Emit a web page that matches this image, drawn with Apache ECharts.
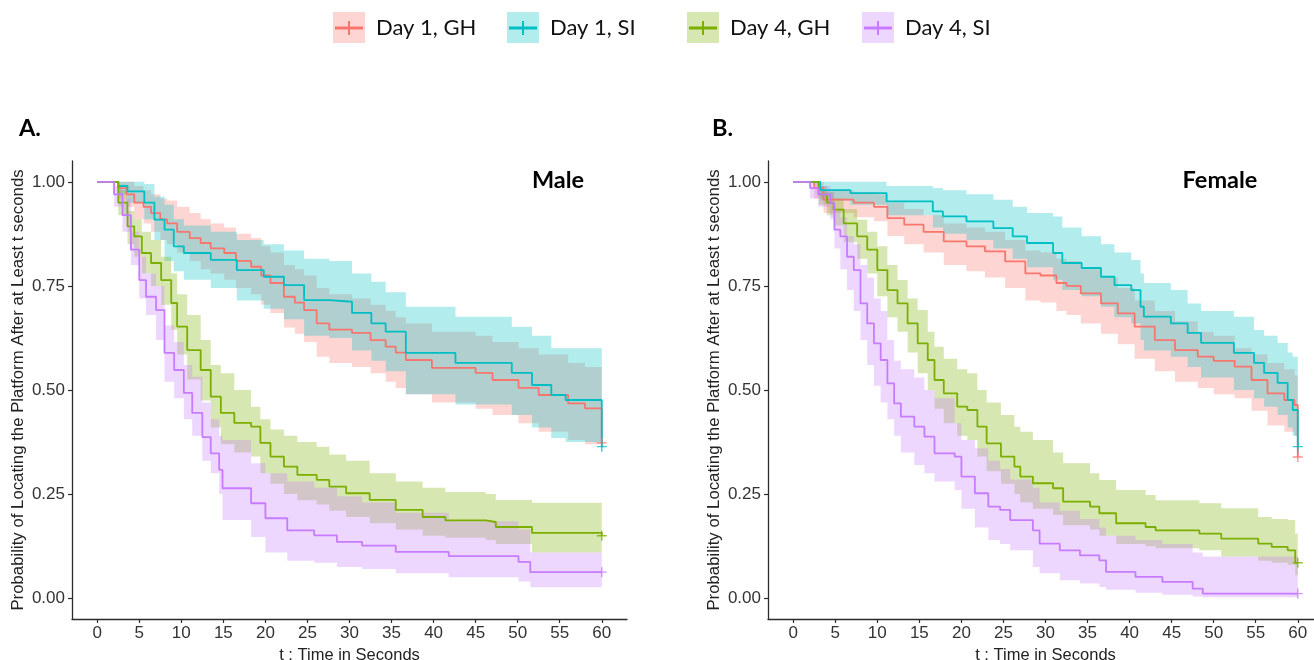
<!DOCTYPE html>
<html>
<head>
<meta charset="utf-8">
<script src="https://cdn.jsdelivr.net/npm/echarts@6/dist/echarts.min.js"></script>
<style>html,body{margin:0;padding:0;background:#fff}#c{width:1314px;height:660px}</style>
</head>
<body>
<div id="c"></div>
<script>
// ---------- data ----------
const groups = ['Day 1, GH', 'Day 1, SI', 'Day 4, GH', 'Day 4, SI'];
const panels = ['Male', 'Female'];
const xTicks = [0, 5, 10, 15, 20, 25, 30, 35, 40, 45, 50, 55, 60];
const yTicks = [0, 0.25, 0.5, 0.75, 1];

// Panel A (Male) - Day 1, GH
const A_d1gh_t  = [0,2.5,3.5,4.4,5.5,6.4,7.5,8.3,9.5,11,12.3,13.5,15.1,16.5,18.3,19.5,20.6,22.2,23.5,24.6,26.1,27.6,30.3,32.5,34.3,35.5,36.7,39.8,45,47,50.1,52.5,56,58,60];
const A_d1gh_s  = [1,.985,.97,.95,.94,.925,.91,.90,.88,.865,.853,.84,.829,.81,.796,.775,.757,.724,.71,.692,.66,.645,.637,.62,.604,.59,.572,.553,.541,.524,.505,.488,.468,.456,.373];
const A_d1gh_lo = [1,.96,.94,.91,.90,.88,.86,.85,.83,.81,.79,.78,.765,.745,.73,.705,.685,.65,.635,.615,.58,.565,.555,.54,.52,.505,.49,.47,.455,.44,.42,.40,.38,.37,.28];
const A_d1gh_hi = [1,1,1,.99,.98,.97,.96,.955,.94,.925,.91,.90,.89,.875,.865,.845,.83,.80,.79,.775,.745,.73,.72,.705,.69,.675,.66,.64,.63,.615,.60,.585,.565,.555,.50];
// Panel A - Day 1, SI
const A_d1si_t  = [0,2.5,3.6,5.6,6.8,8.0,9.1,10.3,13.5,16.6,19.8,22.2,24.6,27.6,30.3,32.6,34.3,36.7,42.6,49.3,51.7,54.0,55.7,60];
const A_d1si_s  = [1,.99,.977,.95,.909,.885,.845,.829,.8125,.788,.772,.752,.716,.712,.685,.66,.64,.589,.565,.541,.512,.488,.476,.364];
const A_d1si_lo = [1,.97,.95,.91,.86,.81,.785,.765,.745,.715,.695,.67,.63,.625,.595,.57,.545,.49,.465,.44,.41,.385,.375,.27];
const A_d1si_hi = [1,1,1,.995,.965,.945,.91,.895,.88,.86,.85,.835,.815,.81,.78,.76,.735,.70,.676,.652,.63,.60,.60,.49];
// Panel A - Day 4, GH
const A_d4gh_t  = [0,2.5,3.6,4.4,5.3,6.4,7.6,8.8,9.5,10.7,12.3,13.5,14.7,16.3,18.3,19.4,20.6,22.2,23.8,26.1,27.6,29.6,32.4,35.5,38.7,41.4,46.2,47.4,51.7,60];
const A_d4gh_s  = [1,.95,.893,.869,.829,.805,.764,.709,.652,.596,.548,.484,.445,.421,.412,.373,.34,.316,.296,.284,.268,.252,.236,.212,.195,.187,.183,.171,.157,.15];
const A_d4gh_lo = [1,.92,.85,.82,.78,.75,.705,.645,.585,.525,.475,.41,.37,.35,.34,.30,.275,.25,.235,.225,.21,.195,.18,.165,.15,.145,.14,.13,.11,.10];
const A_d4gh_hi = [1,.98,.93,.91,.88,.86,.82,.78,.73,.68,.62,.56,.54,.50,.46,.43,.405,.39,.375,.364,.345,.33,.30,.28,.265,.255,.25,.236,.229,.225];
// Panel A - Day 4, SI
const A_d4si_t  = [0,2.0,3.0,4.0,5.0,5.8,7.0,8.0,9.15,10.3,11.3,12.5,13.5,14.5,14.9,18.3,20.0,22.6,25.8,28.5,31.5,35.5,41.8,50.1,51.5,60];
const A_d4si_s  = [1,.97,.92,.837,.764,.724,.692,.589,.548,.493,.445,.387,.348,.308,.264,.228,.192,.163,.151,.135,.126,.111,.101,.087,.0625,.0625];
const A_d4si_lo = [1,.94,.88,.80,.72,.68,.62,.52,.48,.43,.39,.33,.30,.25,.188,.147,.11,.09,.085,.075,.07,.06,.05,.04,.026,.026];
const A_d4si_hi = [1,.99,.96,.88,.82,.78,.75,.655,.615,.56,.532,.47,.43,.39,.38,.324,.30,.28,.265,.245,.23,.205,.185,.165,.11,.11];

// Panel B (Female) - Day 1, GH
const B_d1gh_t  = [0,2.5,3.6,7.2,9.6,11.2,13.2,15.5,17.9,20.6,22.8,25.2,27.6,29.4,31.3,32.5,34.2,36.6,38.6,40.6,43.0,45.4,48.1,50.0,52.5,54.5,56.4,58.4,59.6,60];
const B_d1gh_s  = [1,.985,.957,.95,.94,.913,.897,.88,.857,.845,.833,.809,.78,.775,.757,.75,.732,.708,.684,.652,.62,.596,.58,.57,.556,.524,.492,.476,.464,.339];
const B_d1gh_lo = [1,.96,.925,.915,.905,.87,.85,.83,.80,.785,.77,.745,.715,.71,.69,.68,.66,.635,.61,.575,.545,.52,.505,.49,.48,.45,.415,.40,.39,.27];
const B_d1gh_hi = [1,1,.98,.975,.97,.95,.935,.92,.90,.89,.88,.86,.835,.83,.815,.81,.79,.77,.745,.715,.69,.665,.64,.63,.60,.585,.565,.55,.535,.45];
// Panel B - Day 1, SI
const B_d1si_t  = [0,3.2,6.8,11.1,16.6,17.8,20.6,23.8,26.1,27.8,30.9,32.0,34.3,36.6,38.2,40.2,41.3,41.7,44.9,46.9,48.5,52.4,54.8,56.0,57.6,58.8,59.4,60];
const B_d1si_s  = [1,.98,.973,.953,.929,.917,.905,.889,.869,.853,.829,.805,.793,.772,.752,.74,.70,.676,.66,.637,.613,.589,.565,.541,.517,.476,.452,.364];
const B_d1si_lo = [1,.955,.945,.92,.89,.875,.86,.84,.815,.795,.765,.74,.725,.70,.675,.66,.62,.595,.58,.555,.53,.50,.48,.46,.44,.41,.39,.276];
const B_d1si_hi = [1,1,1,.99,.985,.98,.97,.957,.94,.925,.917,.89,.869,.85,.83,.8125,.78,.757,.74,.708,.69,.676,.644,.63,.613,.59,.58,.532];
// Panel B - Day 4, GH
const B_d4gh_t  = [0,3.0,4.0,4.8,6.0,7.6,8.8,10.0,11.2,12.4,13.6,14.8,16.0,16.8,17.9,19.5,20.7,21.9,23.0,24.7,26.3,27.0,28.5,30.9,32.1,35.3,36.4,38.4,41.9,43.1,48.3,50.9,55.3,56.9,58.8,59.7,60];
const B_d4gh_s  = [1,.97,.95,.933,.90,.869,.837,.788,.74,.708,.66,.612,.572,.524,.492,.46,.452,.412,.372,.34,.316,.292,.276,.264,.232,.22,.204,.18,.171,.163,.155,.143,.131,.123,.115,.085,.085];
const B_d4gh_lo = [1,.945,.92,.895,.855,.815,.78,.725,.675,.64,.59,.54,.50,.455,.42,.39,.38,.34,.305,.275,.25,.23,.215,.20,.175,.165,.15,.13,.125,.12,.115,.10,.09,.085,.08,.055,.055];
const B_d4gh_hi = [1,.99,.975,.96,.935,.909,.88,.845,.80,.764,.72,.692,.64,.604,.575,.55,.54,.50,.47,.44,.412,.40,.38,.35,.324,.30,.284,.26,.248,.235,.228,.216,.195,.19,.1875,.155,.155];
// Panel B - Day 4, SI
const B_d4si_t  = [0,2.0,3.0,4.4,4.9,5.6,6.4,7.2,8.0,8.8,9.6,10.4,11.2,12.0,12.8,14.4,15.6,16.8,19.2,20.0,21.6,23.2,24.6,25.8,28.5,29.3,31.7,34.1,36.4,37.2,40.7,43.9,47.5,48.7,60];
const B_d4si_s  = [1,.985,.97,.949,.885,.869,.82,.788,.708,.66,.612,.572,.516,.468,.436,.412,.388,.348,.34,.292,.252,.22,.212,.1875,.163,.131,.115,.103,.091,.063,.051,.039,.023,.011,.011];
const B_d4si_lo = [1,.96,.94,.91,.84,.79,.74,.69,.62,.56,.51,.47,.43,.39,.35,.32,.30,.28,.26,.215,.17,.14,.13,.115,.075,.06,.043,.035,.027,.02,.013,.008,.004,.002,.002];
const B_d4si_hi = [1,1,.99,.975,.93,.915,.87,.85,.80,.77,.72,.69,.62,.57,.55,.53,.50,.48,.42,.38,.36,.33,.31,.285,.265,.23,.21,.19,.17,.15,.14,.13,.11,.10,.09];

// ---------- styling ----------
const colors = ['#F8766D', '#00BFC4', '#7CAE00', '#C77CFF'];
const curves = [
  [[A_d1gh_t, A_d1gh_s, A_d1gh_lo, A_d1gh_hi], [A_d1si_t, A_d1si_s, A_d1si_lo, A_d1si_hi],
   [A_d4gh_t, A_d4gh_s, A_d4gh_lo, A_d4gh_hi], [A_d4si_t, A_d4si_s, A_d4si_lo, A_d4si_hi]],
  [[B_d1gh_t, B_d1gh_s, B_d1gh_lo, B_d1gh_hi], [B_d1si_t, B_d1si_s, B_d1si_lo, B_d1si_hi],
   [B_d4gh_t, B_d4gh_s, B_d4gh_lo, B_d4gh_hi], [B_d4si_t, B_d4si_s, B_d4si_lo, B_d4si_hi]]
];

function rgba(hex, a) {
  const n = parseInt(hex.slice(1), 16);
  return 'rgba(' + ((n >> 16) & 255) + ',' + ((n >> 8) & 255) + ',' + (n & 255) + ',' + a + ')';
}

function bandRenderer(t, lo, hi, fill) {
  return function (params, api) {
    if (params.dataIndex !== 0) return null;
    const up = [], dn = [];
    for (let i = 0; i < t.length; i++) {
      up.push(api.coord([t[i], hi[i]]));
      if (i + 1 < t.length) up.push(api.coord([t[i + 1], hi[i]]));
    }
    for (let i = t.length - 1; i >= 0; i--) {
      if (i + 1 < t.length) dn.push(api.coord([t[i + 1], lo[i]]));
      dn.push(api.coord([t[i], lo[i]]));
    }
    return { type: 'polygon', shape: { points: up.concat(dn) }, style: { fill: fill }, silent: true };
  };
}

const FONT = 'Liberation Sans';
const axisCol = '#2b2b2b';
const gridLefts = [72, 768];

const grids = [], xAxes = [], yAxes = [], series = [];
gridLefts.forEach((gl, p) => {
  grids.push({ left: gl, top: 161, width: 555, height: 458, containLabel: false, outerBoundsMode: 'none' });
  xAxes.push({
    type: 'value', gridIndex: p, min: -3, max: 63,
    axisLine: { show: true, onZero: false, lineStyle: { color: axisCol, width: 1.3 } },
    axisTick: { show: true, length: 4, customValues: xTicks, lineStyle: { color: axisCol, width: 1.2 } },
    axisLabel: { customValues: xTicks, fontSize: 17, color: '#333', margin: 6, fontFamily: FONT },
    splitLine: { show: false },
    name: 't : Time in Seconds', nameLocation: 'middle', nameGap: 25,
    nameTextStyle: { fontSize: 16.5, color: '#222', fontFamily: FONT }
  });
  yAxes.push({
    type: 'value', gridIndex: p, min: -0.05, max: 1.05,
    axisLine: { show: true, onZero: false, lineStyle: { color: axisCol, width: 1.3 } },
    axisTick: { show: true, length: 4, customValues: yTicks, lineStyle: { color: axisCol, width: 1.2 } },
    axisLabel: { customValues: yTicks, fontSize: 17, color: '#333', margin: 7, fontFamily: FONT,
                 formatter: v => Number(v).toFixed(2) },
    splitLine: { show: false },
    name: 'Probability of Locating the Platform After at Least t seconds',
    nameLocation: 'middle', nameGap: 45, nameRotate: 90,
    nameTextStyle: { fontSize: 16.8, color: '#222', fontFamily: FONT }
  });
  curves[p].forEach((c, g) => {
    const [t, s, lo, hi] = c;
    series.push({
      type: 'custom', name: groups[g], xAxisIndex: p, yAxisIndex: p, z: 1,
      renderItem: bandRenderer(t, lo, hi, rgba(colors[g], 0.3)),
      data: t.map((v, i) => [v, lo[i], hi[i]]), encode: { x: 0, y: [1, 2] }, silent: true
    });
  });
  curves[p].forEach((c, g) => {
    const [t, s] = c;
    series.push({
      type: 'line', name: groups[g], xAxisIndex: p, yAxisIndex: p, z: 3, step: 'end',
      showSymbol: false, silent: true, animation: false,
      data: t.map((v, i) => [v, s[i]]),
      lineStyle: { color: colors[g], width: 1.8 }, itemStyle: { color: colors[g] }
    });
    series.push({
      type: 'scatter', name: groups[g], xAxisIndex: p, yAxisIndex: p, z: 4, silent: true,
      data: [[t[t.length - 1], s[s.length - 1]]],
      symbol: 'path://M0,4.3h10v1.4h-10z M4.3,0h1.4v10h-1.4z', symbolSize: 10,
      itemStyle: { color: colors[g] }
    });
  });
});

const legendLefts = [333, 507, 687, 862];
const legendIcon = 'path://M0,13.5h28v3h-28z M13,8h2v14h-2z';
const legends = groups.map((g, i) => ({
  data: [{ name: g, icon: legendIcon, itemStyle: { color: colors[i] } }],
  left: legendLefts[i] + 2, top: 17, itemWidth: 28, itemHeight: 22, padding: 0,
  selectedMode: false,
  textStyle: { fontSize: 22, fontFamily: 'Lato', color: '#111', padding: [0, 0, 0, 8] }
}));
const legendBoxes = groups.map((g, i) => ({
  type: 'rect', left: legendLefts[i], top: 12, z: -1,
  shape: { width: 32, height: 31 }, style: { fill: rgba(colors[i], 0.3) }
}));

const titleStyle = { fontSize: 23.5, fontWeight: 'bold', fontFamily: 'Lato', color: '#000' };
const chart = echarts.init(document.getElementById('c'), null, { renderer: 'canvas' });
chart.setOption({
  backgroundColor: '#fff',
  animation: false,
  title: [
    { text: 'A.', left: 14, top: 111, textStyle: titleStyle },
    { text: 'B.', left: 707, top: 111, textStyle: titleStyle },
    { text: panels[0], left: 553, top: 163, textAlign: 'center', textStyle: titleStyle },
    { text: panels[1], left: 1215, top: 163, textAlign: 'center', textStyle: titleStyle }
  ],
  legend: legends,
  graphic: legendBoxes,
  grid: grids, xAxis: xAxes, yAxis: yAxes, series: series
});
</script>
</body>
</html>
